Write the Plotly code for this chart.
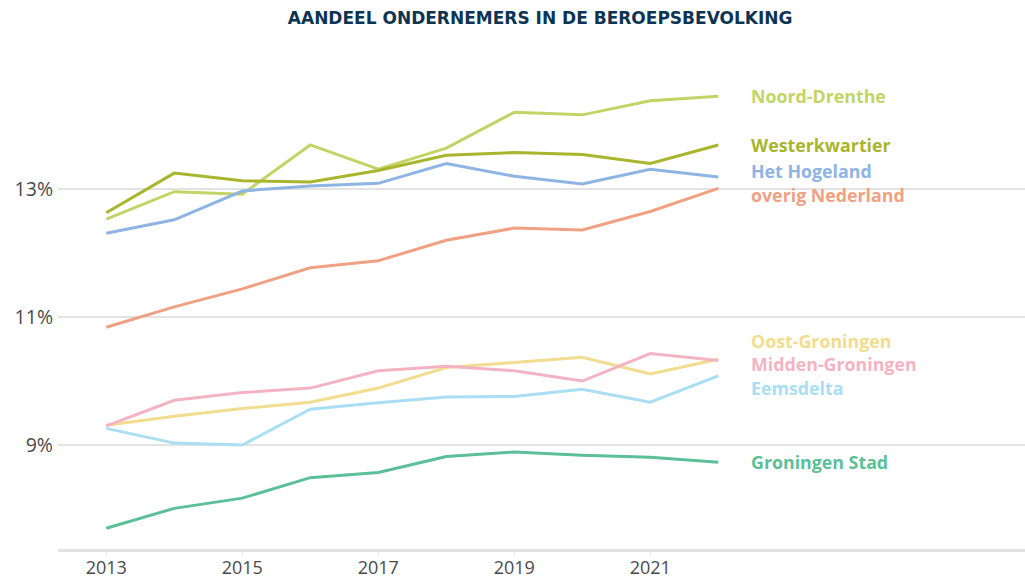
import plotly.graph_objects as go

years = [2013, 2014, 2015, 2016, 2017, 2018, 2019, 2020, 2021, 2022]

series_names = ["Noord-Drenthe", "Westerkwartier", "Het Hogeland", "overig Nederland",
                "Oost-Groningen", "Midden-Groningen", "Eemsdelta", "Groningen Stad"]

noord_drenthe = [12.53, 12.96, 12.92, 13.69, 13.31, 13.64, 14.20, 14.16, 14.38, 14.45]
westerkwartier = [12.63, 13.25, 13.13, 13.11, 13.29, 13.53, 13.57, 13.54, 13.40, 13.69]
het_hogeland = [12.31, 12.52, 12.97, 13.05, 13.09, 13.40, 13.20, 13.08, 13.31, 13.19]
overig_nederland = [10.84, 11.16, 11.44, 11.77, 11.88, 12.20, 12.39, 12.36, 12.65, 13.01]
oost_groningen = [9.31, 9.45, 9.57, 9.67, 9.89, 10.21, 10.29, 10.37, 10.11, 10.34]
midden_groningen = [9.30, 9.70, 9.82, 9.89, 10.16, 10.23, 10.16, 10.00, 10.43, 10.32]
eemsdelta = [9.26, 9.03, 9.00, 9.56, 9.66, 9.75, 9.76, 9.87, 9.67, 10.08]
groningen_stad = [7.70, 8.01, 8.17, 8.49, 8.57, 8.82, 8.89, 8.84, 8.81, 8.73]

values = [noord_drenthe, westerkwartier, het_hogeland, overig_nederland,
          oost_groningen, midden_groningen, eemsdelta, groningen_stad]

colors = ["#c3d466", "#a9b52c", "#8db4e2", "#f0a184",
          "#f2dc8e", "#f4b3c2", "#a9def4", "#5bbf98"]

label_y = [14.45, 13.69, 13.28, 12.91, 10.63, 10.27, 9.89, 8.73]

y_tickvals = [9, 11, 13]
y_ticktext = ["9%", "11%", "13%"]
x_tickvals = [2013, 2015, 2017, 2019, 2021]

fig = go.Figure()
for name, vals, col in zip(series_names, values, colors):
    fig.add_trace(go.Scatter(x=years, y=vals, mode="lines", name=name,
                             line=dict(color=col, width=3), hoverinfo="x+y+name"))

for name, ly, col in zip(series_names, label_y, colors):
    fig.add_annotation(x=2022.45, y=ly, xref="x", yref="y", text="<b>%s</b>" % name,
                       showarrow=False, xanchor="left", yanchor="middle",
                       font=dict(family="Open Sans", size=17.8, color=col))

fig.update_layout(
    width=1025, height=580,
    margin=dict(l=58, r=0, t=40, b=31, autoexpand=False),
    paper_bgcolor="white", plot_bgcolor="white",
    showlegend=False,
    title=dict(text="<b>AANDEEL ONDERNEMERS IN DE BEROEPSBEVOLKING</b>",
               x=0.527, xanchor="center", y=0.969, yanchor="middle",
               yref="container", automargin=False,
               font=dict(family="DejaVu Sans", size=17, color="#0d3552")),
    xaxis=dict(range=[2012.29, 2026.51], tickvals=x_tickvals, showgrid=False,
               zeroline=False, showline=True, linecolor="#e3e3e3", linewidth=3,
               ticks="outside", ticklen=3, tickcolor="#e3e3e3",
               automargin=False, ticklabelstandoff=-3,
               tickfont=dict(family="Open Sans", size=18, color="#4a4a4a")),
    yaxis=dict(range=[7.375, 15.33], tickvals=y_tickvals, ticktext=y_ticktext,
               showgrid=True, gridcolor="#e3e3e3", gridwidth=2, zeroline=False,
               showline=False, automargin=False, ticklabelstandoff=4,
               tickfont=dict(family="Open Sans", size=19.5, color="#4a4a4a")),
)

fig.write_html("out.html", config={"displayModeBar": False},
               post_script="document.body.style.margin='0';document.body.style.overflow='hidden';")
